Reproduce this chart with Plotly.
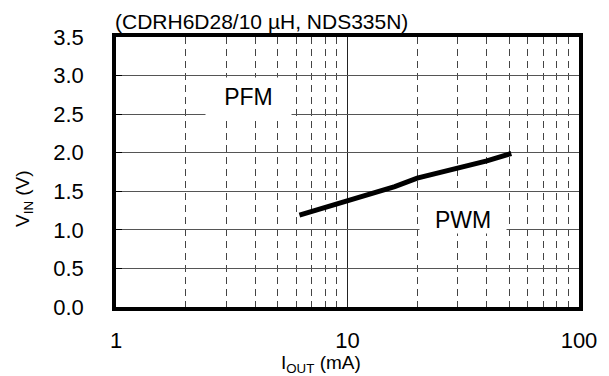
import numpy as np
import plotly.graph_objects as go

# Data
iout_ma = [6.2, 10, 13, 16, 20, 25, 30, 40, 51]
vin_v = [1.19, 1.38, 1.49, 1.56, 1.67, 1.74, 1.80, 1.895, 1.99]

x_tick_vals = [1, 10, 100]
x_tick_text = ["1", "10", "100"]
x_minor_vals = [2, 3, 4, 5, 6, 7, 8, 9, 20, 30, 40, 50, 60, 70, 80, 90]
y_tick_vals = [0.0, 0.5, 1.0, 1.5, 2.0, 2.5, 3.0, 3.5]

title_text = "(CDRH6D28/10 µH, NDS335N)"
# (text, x in mA, y of box centre in V, box width, box height, vertical align)
pfm_label = ("PFM", 3.74, 2.72, 85, 38, "middle")
pwm_label = ("PWM", 31.4, 1.22, 86, 40, "bottom")

FONT = "Liberation Sans, Arial, sans-serif"

# the page body adds an 8px margin; size the figure so it fits the window
OFF = 8
W, H = 609 - OFF, 376 - OFF
L, R, T, B = 108, 20, 29, 69
pw, ph = W - L - R, H - T - B


def px(xs):  # screen x -> paper x
    return (xs - OFF - L) / pw


def py(ys):  # screen y -> paper y
    return 1 - (ys - OFF - T) / ph


fig = go.Figure()
fig.add_trace(go.Scatter(
    x=iout_ma, y=vin_v, mode="lines",
    line=dict(color="black", width=5),
    showlegend=False, hoverinfo="skip",
))

fig.update_layout(
    width=W, height=H,
    margin=dict(l=L, r=R, t=T, b=B, pad=0),
    paper_bgcolor="white", plot_bgcolor="white",
    font=dict(family=FONT, size=22, color="black"),
    showlegend=False,
)

fig.update_xaxes(
    type="log", range=[0, 2],
    tickmode="array", tickvals=x_tick_vals, ticktext=x_tick_text,
    showgrid=True, gridcolor="#222", gridwidth=1,
    ticks="", ticklabelstandoff=11,
    showline=True, mirror=True, linecolor="black", linewidth=3.5,
    zeroline=False,
    minor=dict(tickmode="array", tickvals=x_minor_vals, showgrid=True,
               gridcolor="#444", gridwidth=1, griddash="7px,5px", ticks=""),
)
fig.update_yaxes(
    range=[0, 3.5], tickmode="array", tickvals=y_tick_vals,
    ticktext=[f"{v:.1f}" for v in y_tick_vals],
    showgrid=True, gridcolor="#555", gridwidth=1,
    ticks="inside", ticklen=6, tickcolor="black", tickwidth=1,
    ticklabelstandoff=24,
    showline=True, mirror=True, linecolor="black", linewidth=3.5,
    zeroline=False,
)

annotations = []
for text, xv, yv, bw, bh, va in (pfm_label, pwm_label):
    annotations.append(dict(
        x=np.log10(xv), y=yv, xref="x", yref="y", text=text, showarrow=False,
        font=dict(size=23, family=FONT), bgcolor="white", width=bw, height=bh,
        align="center", valign=va, borderpad=0,
    ))
annotations.append(dict(
    x=px(113), y=py(22), xref="paper", yref="paper",
    xanchor="left", yanchor="middle", text=title_text, showarrow=False,
    font=dict(size=21, family=FONT),
))
annotations.append(dict(
    x=px(325), y=py(364), xref="paper", yref="paper",
    xanchor="center", yanchor="middle", text="I<sub>OUT</sub> (mA)", showarrow=False,
    font=dict(size=19, family=FONT),
))
annotations.append(dict(
    x=px(22), y=py(198), xref="paper", yref="paper",
    xanchor="center", yanchor="middle", text="V<sub>IN</sub> (V)", showarrow=False,
    textangle=-90, font=dict(size=19, family=FONT),
))
fig.update_layout(annotations=annotations)

fig.write_html("out.html")
